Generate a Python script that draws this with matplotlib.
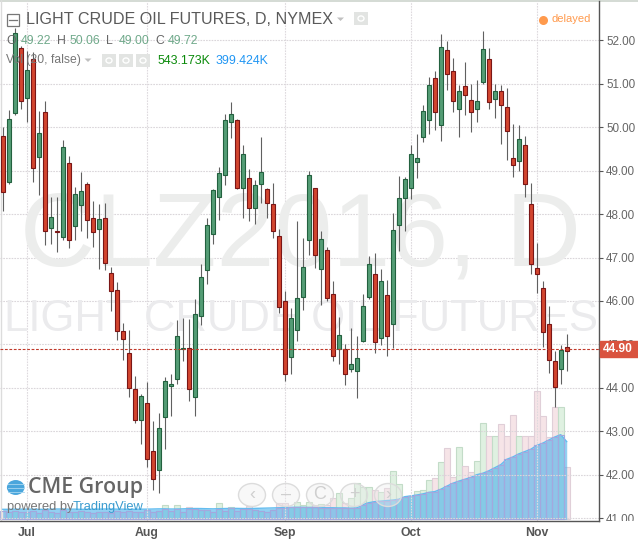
import matplotlib
matplotlib.use("Agg")
import matplotlib.pyplot as plt
from matplotlib.patches import Rectangle, Circle, Polygon
from matplotlib.transforms import Bbox, TransformedBbox, blended_transform_factory

plt.rcParams['font.family'] = ['Liberation Sans', 'DejaVu Sans']

opens = [49.80,48.75,50.32,51.82,50.67,51.56,49.32,50.34,47.67,47.60,47.47,49.17,47.73,48.20,48.69,47.90,47.65,47.90,
         46.64,46.25,45.30,44.80,43.97,43.27,43.65,42.54,42.12,43.34,44.04,44.20,44.90,44.91,43.78,45.66,46.72,47.55,
         48.40,48.91,50.13,50.16,48.61,48.82,48.13,48.69,48.57,48.23,47.49,45.99,44.70,45.34,46.10,47.40,48.59,46.74,
         47.17,46.15,44.90,44.90,44.44,44.40,45.07,46.10,46.61,45.14,46.13,45.46,47.76,48.36,48.61,49.19,49.78,50.16,
         51.13,50.06,51.77,51.29,50.43,50.94,50.62,50.43,51.05,51.56,50.64,50.83,50.46,49.28,49.22,49.58,48.23,46.75,
         46.29,45.46,44.61,44.43,44.93]
highs = [50.01,50.40,52.28,51.87,51.75,51.74,50.37,50.60,48.40,48.39,49.71,49.34,48.63,48.98,48.75,48.29,48.23,48.25,
         46.79,46.43,45.49,45.33,44.27,43.86,44.13,43.24,43.42,44.24,44.32,45.56,45.62,45.58,46.05,46.85,47.91,48.58,
         49.09,50.30,50.57,50.18,49.59,49.03,48.79,49.77,48.60,48.71,47.65,46.22,45.83,47.83,47.45,48.99,48.60,47.60,
         47.24,46.45,45.63,45.00,45.37,45.20,46.16,47.04,47.10,46.73,46.48,48.03,48.88,48.85,49.59,49.84,50.51,51.15,
         51.29,52.15,51.98,51.59,50.96,51.50,51.00,51.09,52.21,51.82,51.00,50.97,50.90,50.07,50.06,49.80,48.71,47.33,
         46.46,45.89,44.86,44.99,45.24]
lows = [48.06,48.70,50.27,50.43,50.13,48.75,48.44,47.29,47.31,47.12,47.40,47.23,47.40,47.60,47.44,47.25,46.73,46.71,
        45.78,45.10,44.64,43.80,43.20,42.71,42.17,41.65,41.57,42.59,43.36,44.09,44.63,43.71,43.36,45.45,46.40,47.31,
        47.87,48.68,49.76,48.57,47.92,47.83,47.77,48.26,47.92,47.46,45.73,44.17,44.32,45.09,45.79,47.06,46.77,45.91,
        45.99,44.63,44.55,44.07,44.37,43.76,45.05,46.05,44.81,44.99,44.74,44.92,47.15,47.60,48.34,48.84,49.67,49.84,
        49.94,49.69,50.86,50.36,49.78,50.28,49.90,50.13,51.00,50.43,50.20,49.61,49.25,48.86,49.00,48.40,46.63,46.19,
        44.95,44.35,43.55,44.10,44.40]
closes = [48.50,50.18,52.16,50.60,51.32,49.05,49.86,47.60,47.93,47.58,49.54,47.40,48.46,48.52,47.86,47.58,47.88,46.87,
          46.24,45.30,45.12,43.99,43.27,43.81,42.36,41.90,43.07,44.17,44.08,45.19,44.91,43.97,45.69,46.55,47.74,48.55,
          48.94,50.17,50.30,48.61,49.38,48.13,48.66,48.96,48.26,47.60,45.87,44.31,45.60,46.06,46.78,48.89,47.05,47.42,
          46.08,44.74,45.21,44.33,44.54,44.68,45.88,46.84,45.05,46.45,45.20,47.63,48.36,48.80,49.38,49.28,50.37,50.96,
          50.36,51.84,51.22,50.61,50.83,50.73,50.34,50.60,51.79,50.59,50.83,50.50,49.92,49.14,49.72,48.69,46.84,46.63,
          45.29,44.64,44.03,44.87,44.86]
volumes = [52,48,56,50,46,54,44,58,47,42,60,50,45,52,48,44,50,46,
           42,52,48,55,50,46,60,48,54,91,52,91,50,82,75,58,62,50,
           104,56,82,52,75,89,60,54,48,62,104,104,78,115,90,115,96,100,
           93,137,169,104,137,234,212,208,190,180,205,312,232,147,152,182,191,254,
           269,371,462,273,468,345,306,379,624,544,544,620,544,676,543,544,544,834,
           670,537,732,732,338]
vol_ma = [65,65,66,66,66,66,65,65,66,67,67,66,66,65,65,66,66,67,
          67,66,66,65,65,66,66,67,68,68,67,67,68,69,70,70,69,68,
          69,70,71,71,70,70,71,72,73,74,75,76,78,78,78,77,77,76,
          75,75,74,74,72,74,95,108,115,118,122,125,130,147,152,158,165,175,
          180,195,215,234,248,260,272,290,299,315,335,355,390,405,425,440,455,480,
          495,515,535,550,505]
price_ticks = [41,42,43,44,45,46,47,48,49,50,51,52]
month_pos = [4,24,47,68,89]
month_labels = ['Jul','Aug','Sep','Oct','Nov']
last_price = 44.90

W, H = 638, 542
fig = plt.figure(figsize=(W/100, H/100), dpi=100, facecolor='white')
rect = [0, 1-521/H, 599.3/W, 520/H]
axv = fig.add_axes(rect, zorder=1)
ax = fig.add_axes(rect, zorder=2)
ax.patch.set_visible(False)
xs = list(range(len(opens)))
xlim = (-0.45, 99.43)
ax.set_xlim(*xlim); axv.set_xlim(*xlim)
ax.set_ylim(40.937, 52.904)
axv.set_ylim(-11, 3369)
axv.axis('off')

UP, DOWN = '#549d75', '#d2452f'
UPE, DOWNE = '#23613f', '#7a1616'
vcol = ['#dff1e1' if c >= o else '#f6e4e7' for o, c in zip(opens, closes)]
vedge = ['#c3dcc8' if c >= o else '#e0cfd8' for o, c in zip(opens, closes)]
axv.bar(xs, volumes, width=1.0, color=vcol, edgecolor=vedge, linewidth=0.8, zorder=2)
axv.fill_between(xs, 0, vol_ma, color='#45aeea', alpha=0.58, linewidth=0, zorder=3)
axv.plot(xs, vol_ma, color='#63bdf0', lw=1, zorder=3)
axv.bar(xs[:-1], [min(v, m) for v, m in zip(volumes[:-1], vol_ma[:-1])], width=1.0, color='none',
        edgecolor='#a3a8de', linewidth=0.8, zorder=4)

for p in price_ticks:
    ax.axhline(p, color='#dad6da', lw=0.8, ls=(0, (1.5, 1)), zorder=1)
for m in month_pos:
    ax.axvline(m, color='#dedade', lw=0.8, ls=(0, (1.5, 1)), zorder=1)

fig_x = lambda x: x/W
fig_y = lambda y: 1-y/H
ax.text(20/599.3, 1-(266-1)/520, 'CLZ2016, D', transform=ax.transAxes, fontsize=75, color='#ecedec',
        ha='left', va='baseline', zorder=1.5)
ax.text(4/599.3, 1-(331.5-1)/520, 'LIGHT CRUDE OIL FUTURES', transform=ax.transAxes, fontsize=31.4, color='#ebebed',
        ha='left', va='baseline', zorder=1.5)

ax.vlines(xs, lows, highs, color='#606060', lw=0.8, zorder=3)
bot = [min(o, c) for o, c in zip(opens, closes)]
hei = [abs(c-o) for o, c in zip(opens, closes)]
ax.bar(xs, hei, bottom=bot, width=0.68,
       color=[UP if c >= o else DOWN for o, c in zip(opens, closes)],
       edgecolor=[UPE if c >= o else DOWNE for o, c in zip(opens, closes)],
       linewidth=0.8, zorder=4)
ax.axhline(last_price, color='#c0392b', lw=0.8, ls=(0, (2.5, 1.5)), zorder=5)

ax.yaxis.tick_right()
ax.set_yticks(price_ticks)
ax.set_yticklabels(['%.2f' % p for p in price_ticks], fontsize=8.4, color='#666666')
ax.set_xticks(month_pos)
ax.set_xticklabels(month_labels, fontsize=8.8, color='#555555', fontweight='bold')
ax.tick_params(axis='y', length=3, width=0.8, color='#555555', pad=2)
ax.tick_params(axis='x', length=0, pad=4)
for s in ('top', 'left'):
    ax.spines[s].set_visible(False)
for s in ('right', 'bottom'):
    ax.spines[s].set_color('#555555')
    ax.spines[s].set_linewidth(1.0)
clip = TransformedBbox(Bbox([[0.9, fig_y(520.5)], [1, 1]]), fig.transFigure)
for lab in ax.get_yticklabels():
    lab.set_clip_on(True)
    lab.set_clip_box(clip)

tr = blended_transform_factory(fig.transFigure, ax.transData)
ax.add_patch(Rectangle((599.5/W, last_price-0.185), 38/W, 0.37, transform=tr, color='#d9533f', clip_on=False, zorder=20))
ax.text(618/W, last_price-0.005, '44.90', transform=tr, color='white', fontsize=8.6, fontweight='bold',
        ha='center', va='center', clip_on=False, zorder=21)

fig.add_artist(plt.Line2D([0, 1], [fig_y(0.5)]*2, color='#cdd4cd', lw=1.2))
fig.add_artist(plt.Line2D([fig_x(0.5)]*2, [0.04, 1], color='#dcdcdc', lw=1))

def T(x, y, s, size, color, **kw):
    kw.setdefault('va', 'center')
    return fig.text(x/W, fig_y(y), s, fontsize=size, color=color, zorder=30, **kw)

def box(x, y, w, h, fc, ec='none', lw=0.8):
    fig.add_artist(Rectangle((x/W, fig_y(y+h)), w/W, h/H, transform=fig.transFigure, fc=fc, ec=ec, lw=lw, zorder=30))

box(6.5, 14, 12, 12, 'white', '#777777', 0.9)
fig.add_artist(plt.Line2D([8.5/W, 16.5/W], [fig_y(20)]*2, color='#777777', lw=0.9, zorder=31))
T(26, 19.5, 'LIGHT CRUDE OIL FUTURES, D, NYMEX', 11.65, '#5a5a5a')
for tx, ty in [(340.5, 19), (88, 60)]:
    fig.add_artist(Polygon([((tx-3.5)/W, fig_y(ty-1.5)), ((tx+3.5)/W, fig_y(ty-1.5)), (tx/W, fig_y(ty+2))],
                           transform=fig.transFigure, fc='#c0c0c0', ec='none', zorder=30))
for bx, by in [(354, 12), (102, 54), (119, 54), (136, 54)]:
    box(bx, by, 14, 13, '#e2e4e2')
    fig.add_artist(Circle(((bx+7)/W, fig_y(by+6.5)), 3/W, transform=fig.transFigure, fc='none', ec='white', lw=1, zorder=31))
fig.add_artist(plt.Line2D([543/W], [fig_y(20)], marker='o', ms=6.5, color='#ff9a4d', mec='none', zorder=30))
T(551, 19.5, 'delayed', 8.0, '#ff9a4d')

VAL = '#6fa98a'; LAB = '#666666'
for x, s, c in [(6.5, 'O', LAB), (20.5, '49.22', VAL), (57, 'H', LAB), (70, '50.06', VAL), (106, 'L', LAB),
                (118.5, '49.00', VAL), (155, 'C', LAB), (168, '49.72', VAL)]:
    T(x, 41, s, 8.8, c)
T(6.5, 60, 'Vol (20, false)', 8.7, '#777777')
T(158, 61, '543.173K', 8.9, '#0a8a0a')
T(216, 61, '399.424K', 8.9, '#2196f3')

fig.add_artist(Circle((15.7/W, fig_y(487.5)), 8.8/W, transform=fig.transFigure, fc='#4aa6dc', ec='none', zorder=30))
for dy in (-4, 0, 4):
    fig.add_artist(plt.Line2D([8/W, 23.5/W], [fig_y(487.5+dy)]*2, color='#a8d6f0', lw=0.6, zorder=31))
T(28, 488, 'CME Group', 15.4, '#666666', family='Open Sans', fontweight='semibold')
T(7, 507, 'powered by', 9.3, '#777777')
T(73, 507, 'TradingView', 9.3, '#3b9ccf')

for cx, s in zip([252, 286, 320, 354, 388], ['‹', '–', 'C', '+', '›']):
    fig.add_artist(Circle((cx/W, fig_y(495)), 13.5/W, transform=fig.transFigure, fc=(.93, .93, .93, .35),
                          ec='#dcdcdc', lw=1, zorder=30))
    T(cx, 494.5, s, 13, '#cfcfcf', ha='center')

fig.savefig('out.png', dpi=100)
